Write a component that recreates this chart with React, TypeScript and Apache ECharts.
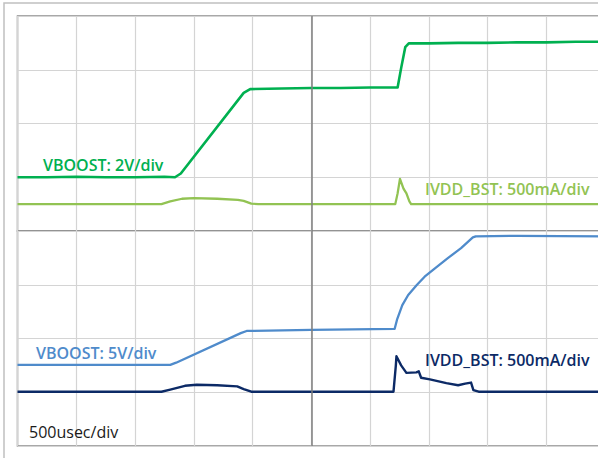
import React, { useEffect, useRef } from "react";
import * as echarts from "echarts";

// Time in divisions (500 usec/div), amplitude in divisions
const vboostTop: [number, number][] = [
  [0, 1.0], [0.5, 1.0], [1, 1.01], [1.5, 1.0], [2, 1.0], [2.5, 1.01], [2.68, 1.0], [2.78, 1.07],
  [3.85, 2.57], [3.96, 2.64], [4.5, 2.65], [5, 2.66], [5.5, 2.66], [6, 2.67], [6.47, 2.67],
  [6.53, 3.03], [6.6, 3.42], [6.66, 3.49], [7, 3.49], [7.5, 3.5], [8, 3.5], [8.5, 3.51],
  [9, 3.51], [9.5, 3.52], [10, 3.52],
];
const ivddTop: [number, number][] = [
  [0, 0.5], [1, 0.5], [2, 0.5], [2.45, 0.5], [2.6, 0.55], [2.8, 0.6], [3.0, 0.61], [3.4, 0.6],
  [3.75, 0.58], [3.85, 0.56], [3.98, 0.51], [4.1, 0.5], [5, 0.5], [6.43, 0.5], [6.47, 0.7],
  [6.51, 0.97], [6.57, 0.79], [6.62, 0.7], [6.67, 0.55], [6.7, 0.5], [8, 0.5], [10, 0.5],
];
const vboostBottom: [number, number][] = [
  [0, 1.51], [1, 1.51], [2, 1.51], [2.6, 1.51], [2.7, 1.55], [3.8, 2.1], [3.9, 2.14], [5, 2.16],
  [6.42, 2.18], [6.46, 2.35], [6.55, 2.62], [6.65, 2.81], [6.8, 3.0], [6.93, 3.15], [7.1, 3.3],
  [7.33, 3.5], [7.55, 3.68], [7.75, 3.88], [7.8, 3.9], [8.5, 3.91], [10, 3.9],
];
const ivddBottom: [number, number][] = [
  [0, 1.01], [1, 1.01], [2, 1.01], [2.45, 1.01], [2.6, 1.05], [2.85, 1.12], [3.05, 1.14],
  [3.4, 1.13], [3.74, 1.11], [3.85, 1.06], [3.98, 1.01], [5, 1.01], [6.4, 1.01], [6.44, 1.5],
  [6.45, 1.67], [6.53, 1.5], [6.62, 1.36], [6.79, 1.37], [6.83, 1.39], [6.87, 1.27],
  [7.02, 1.24], [7.3, 1.17], [7.5, 1.13], [7.62, 1.16], [7.72, 1.18], [7.76, 1.04],
  [7.85, 1.01], [9, 1.01], [10, 1.01],
];

const labels = {
  vTop: "VBOOST: 2V/div",
  iTop: "IVDD_BST: 500mA/div",
  vBot: "VBOOST: 5V/div",
  iBot: "IVDD_BST: 500mA/div",
  time: "500usec/div",
};

const C_VTOP = "#00b050";
const C_ITOP = "#92c353";
const C_VBOT = "#4f8bcb";
const C_IBOT = "#0c2a66";

export default function App() {
  const ref = useRef<HTMLDivElement>(null);
  useEffect(() => {
    if (!ref.current) return;
    const chart = echarts.init(ref.current, undefined, { renderer: "svg" });
    const axisX = (gi: number) => ({
      type: "value" as const,
      gridIndex: gi,
      min: 0,
      max: 10,
      interval: 1,
      axisLabel: { show: false },
      axisLine: { show: false },
      axisTick: { show: false },
      splitLine: { show: true, lineStyle: { color: "#d4d4d4", width: 1.2 } },
    });
    const axisY = (gi: number) => ({
      type: "value" as const,
      gridIndex: gi,
      min: 0,
      max: 4,
      interval: 1,
      axisLabel: { show: false },
      axisLine: { show: false },
      axisTick: { show: false },
      splitLine: { show: true, lineStyle: { color: "#d4d4d4", width: 1.2 } },
    });
    const centerLine = {
      silent: true,
      symbol: "none",
      label: { show: false },
      lineStyle: { color: "#7f7f7f", width: 1.5, type: "solid" as const },
      data: [{ xAxis: 5 }],
    };
    const font = "'Open Sans', sans-serif";
    const txt = (text: string, x: number, y: number, color: string, weight: any) => ({
      type: "text",
      x,
      y,
      style: {
        text,
        fill: color,
        font: `${weight} 16px ${font}`,
        textVerticalAlign: "middle",
      },
      z: 100,
    });
    chart.setOption({
      animation: false,
      backgroundColor: "#ffffff",
      grid: [
        { left: 17.5, top: 16, width: 587.5, height: 215, show: true, borderColor: "#8c8c8c", borderWidth: 1.5, backgroundColor: "#fff" },
        { left: 17.5, top: 231, width: 587.5, height: 215, show: true, borderColor: "#8c8c8c", borderWidth: 1.5, backgroundColor: "#fff" },
      ],
      xAxis: [axisX(0), axisX(1)],
      yAxis: [axisY(0), axisY(1)],
      series: [
        {
          type: "line", xAxisIndex: 0, yAxisIndex: 0, data: ivddTop, showSymbol: false,
          lineStyle: { color: C_ITOP, width: 2.3, join: "round" }, markLine: centerLine, z: 3,
        },
        {
          type: "line", xAxisIndex: 0, yAxisIndex: 0, data: vboostTop, showSymbol: false,
          lineStyle: { color: C_VTOP, width: 2.6, join: "round" }, z: 4,
        },
        {
          type: "line", xAxisIndex: 1, yAxisIndex: 1, data: ivddBottom, showSymbol: false,
          lineStyle: { color: C_IBOT, width: 2.4, join: "round" }, markLine: centerLine, z: 3,
        },
        {
          type: "line", xAxisIndex: 1, yAxisIndex: 1, data: vboostBottom, showSymbol: false,
          lineStyle: { color: C_VBOT, width: 2.3, join: "round" }, z: 4,
        },
      ],
      graphic: [
        {
          type: "rect", shape: { x: 4, y: 3, width: 700, height: 520 },
          style: { fill: "none", stroke: "#c0c0c0", lineWidth: 1.5 }, z: -10, silent: true,
        },
        txt(labels.vTop, 43, 165, C_VTOP, 600),
        txt(labels.iTop, 425, 189, C_ITOP, 600),
        txt(labels.vBot, 36, 353, C_VBOT, 600),
        txt(labels.iBot, 425, 360, C_IBOT, 600),
        txt(labels.time, 29, 432, "#1a1a1a", 400),
      ],
    });
    return () => chart.dispose();
  }, []);
  return (
    <div
      ref={ref}
      style={{ position: "fixed", left: 0, top: 0, width: 620, height: 458 }}
    />
  );
}
